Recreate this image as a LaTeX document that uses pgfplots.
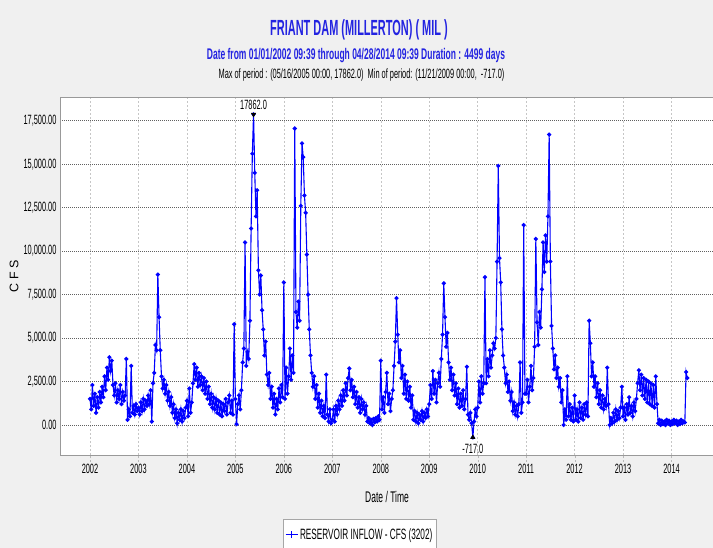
\documentclass[border=0pt]{standalone}
\usepackage{fontspec}
\setmainfont{Liberation Sans}[FakeStretch=0.55]
\newfontfamily\titlefont{Liberation Sans}[FakeStretch=0.5]
\newfontfamily\plainfont{Liberation Sans}
\usepackage{pgfplots}
\usepackage{pgfplotstable}
\pgfplotsset{compat=1.18}
\definecolor{bg}{RGB}{240,240,240}
\definecolor{ttl}{RGB}{35,35,225}
\definecolor{ser}{RGB}{0,0,255}

\pgfplotstableread{
x y
2002.000 1500
2002.025 900
2002.050 2300
2002.075 1100
2002.100 1800
2002.125 700
2002.150 1600
2002.175 1000
2002.200 1900
2002.225 1300
2002.250 2200
2002.275 1600
2002.300 2800
2002.325 2000
2002.350 3300
2002.375 2600
2002.400 3900
2002.425 3100
2002.450 3700
2002.475 2300
2002.500 1700
2002.525 2400
2002.550 1300
2002.575 2000
2002.600 1500
2002.625 2300
2002.650 1200
2002.675 1900
2002.700 1400
2002.725 1700
2002.750 3800
2002.775 300
2002.800 900
2002.825 500
2002.850 3400
2002.875 700
2002.900 1100
2002.925 600
2002.950 1200
2002.975 800
2003.000 1000
2003.025 600
2003.050 1300
2003.075 800
2003.100 1500
2003.125 900
2003.150 1400
2003.175 1100
2003.200 1700
2003.225 1200
2003.250 2000
2003.275 200
2003.300 2400
2003.325 3000
2003.350 4600
2003.375 4300
2003.400 8650
2003.425 6200
2003.450 4300
2003.475 2800
2003.500 2100
2003.525 2600
2003.550 1800
2003.575 2300
2003.600 1400
2003.625 1900
2003.650 1100
2003.675 1600
2003.700 700
2003.725 1200
2003.750 400
2003.775 900
2003.800 100
2003.825 700
2003.850 300
2003.875 900
2003.900 200
2003.925 800
2003.950 400
2003.975 1000
2004.000 1400
2004.025 500
2004.050 2100
2004.075 700
2004.100 1300
2004.125 2400
2004.150 3500
2004.175 2600
2004.200 3300
2004.225 2200
2004.250 3000
2004.275 2300
2004.300 2800
2004.325 2000
2004.350 2700
2004.375 1800
2004.400 2500
2004.425 1500
2004.450 2200
2004.475 1200
2004.500 1800
2004.525 1000
2004.550 1600
2004.575 900
2004.600 1500
2004.625 700
2004.650 1400
2004.675 600
2004.700 1300
2004.725 500
2004.750 1200
2004.775 800
2004.800 1500
2004.825 600
2004.850 1300
2004.875 1700
2004.900 700
2004.925 1400
2004.950 600
2004.975 5800
2005.000 1500
2005.025 50
2005.050 1200
2005.075 1700
2005.100 900
2005.125 2000
2005.150 3600
2005.175 4400
2005.200 10500
2005.225 3400
2005.250 4200
2005.275 3800
2005.300 6000
2005.325 11300
2005.350 15600
2005.375 17862
2005.400 14500
2005.425 12000
2005.450 13500
2005.475 8900
2005.500 7500
2005.525 8600
2005.550 6600
2005.575 5500
2005.600 4000
2005.625 4800
2005.650 2900
2005.675 2300
2005.700 3000
2005.725 1500
2005.750 2200
2005.775 1000
2005.800 1800
2005.825 600
2005.850 1500
2005.875 900
2005.900 2100
2005.925 1300
2005.950 2300
2005.975 1600
2006.000 8200
2006.025 1500
2006.050 3300
2006.075 1800
2006.100 2800
2006.125 4400
2006.150 2600
2006.175 4000
2006.200 3000
2006.225 17050
2006.250 6500
2006.275 5600
2006.300 7100
2006.325 6000
2006.350 12600
2006.375 16200
2006.400 15400
2006.425 13200
2006.450 12200
2006.475 9800
2006.500 7500
2006.525 5500
2006.550 4000
2006.575 3000
2006.600 2200
2006.625 2800
2006.650 1500
2006.675 2300
2006.700 1000
2006.725 1800
2006.750 700
2006.775 1400
2006.800 500
2006.825 1100
2006.850 400
2006.875 2900
2006.900 600
2006.925 200
2006.950 900
2006.975 100
2007.000 300
2007.025 900
2007.050 200
2007.075 1100
2007.100 600
2007.125 1400
2007.150 900
2007.175 1700
2007.200 1100
2007.225 2000
2007.250 1400
2007.275 2400
2007.300 1700
2007.325 2700
2007.350 3250
2007.375 2000
2007.400 2600
2007.425 1600
2007.450 2200
2007.475 1200
2007.500 1900
2007.525 1000
2007.550 1600
2007.575 700
2007.600 1500
2007.625 900
2007.650 1300
2007.675 600
2007.700 1100
2007.725 200
2007.750 400
2007.775 100
2007.800 300
2007.825 0
2007.850 350
2007.875 150
2007.900 400
2007.925 200
2007.950 500
2007.975 300
2008.000 3700
2008.025 900
2008.050 1600
2008.075 700
2008.100 1900
2008.125 3000
2008.150 1200
2008.175 1800
2008.200 800
2008.225 1500
2008.250 2000
2008.275 3400
2008.300 4800
2008.325 7300
2008.350 5200
2008.375 3600
2008.400 4300
2008.425 2700
2008.450 3400
2008.475 1800
2008.500 2900
2008.525 1500
2008.550 2500
2008.575 1400
2008.600 2200
2008.625 1000
2008.650 1700
2008.675 300
2008.700 800
2008.725 200
2008.750 700
2008.775 100
2008.800 600
2008.825 300
2008.850 800
2008.875 200
2008.900 700
2008.925 400
2008.950 900
2008.975 500
2009.000 1200
2009.025 2300
2009.050 1500
2009.075 3100
2009.100 1800
2009.125 2600
2009.150 1300
2009.175 2400
2009.200 3000
2009.225 2200
2009.250 3800
2009.275 5200
2009.300 8150
2009.325 6200
2009.350 4500
2009.375 5300
2009.400 3600
2009.425 2600
2009.450 3300
2009.475 2000
2009.500 2900
2009.525 1700
2009.550 2400
2009.575 1200
2009.600 2100
2009.625 1000
2009.650 1800
2009.675 1100
2009.700 2000
2009.725 900
2009.750 1500
2009.775 3350
2009.800 600
2009.825 300
2009.850 700
2009.875 100
2009.900 -717
2009.925 200
2009.950 900
2009.975 500
2010.000 1000
2010.025 2500
2010.050 1300
2010.075 2800
2010.100 1800
2010.125 2400
2010.150 8500
2010.175 2400
2010.200 3800
2010.225 2800
2010.250 4300
2010.275 3300
2010.300 4000
2010.325 4700
2010.350 4400
2010.375 5000
2010.400 9400
2010.425 14900
2010.450 9600
2010.475 8200
2010.500 5500
2010.525 4000
2010.550 3300
2010.575 2400
2010.600 2900
2010.625 1900
2010.650 2500
2010.675 1400
2010.700 1900
2010.725 800
2010.750 1300
2010.775 600
2010.800 1100
2010.825 500
2010.850 1200
2010.875 3600
2010.900 700
2010.925 1300
2010.950 11500
2010.975 1800
2011.000 1800
2011.025 2600
2011.050 1300
2011.075 2200
2011.100 3400
2011.125 2000
2011.150 2700
2011.175 4500
2011.200 10700
2011.225 5900
2011.250 4600
2011.275 6500
2011.300 5600
2011.325 7800
2011.350 10500
2011.375 8800
2011.400 10900
2011.425 9400
2011.450 12000
2011.475 16700
2011.500 9400
2011.525 5700
2011.550 4400
2011.575 3200
2011.600 4000
2011.625 2700
2011.650 3300
2011.675 2200
2011.700 2700
2011.725 1300
2011.750 2000
2011.775 0
2011.800 900
2011.825 300
2011.850 2800
2011.875 500
2011.900 1200
2011.925 300
2011.950 1000
2011.975 200
2012.000 1700
2012.025 300
2012.050 900
2012.075 200
2012.100 1300
2012.125 400
2012.150 1000
2012.175 300
2012.200 1200
2012.225 600
2012.250 1300
2012.275 500
2012.300 6000
2012.325 4700
2012.350 2800
2012.375 3600
2012.400 2200
2012.425 2800
2012.450 1600
2012.475 2400
2012.500 1200
2012.525 2000
2012.550 1000
2012.575 1700
2012.600 900
2012.625 1500
2012.650 1100
2012.675 3300
2012.700 1200
2012.725 0
2012.750 400
2012.775 100
2012.800 700
2012.825 200
2012.850 900
2012.875 300
2012.900 800
2012.925 400
2012.950 1000
2012.975 2200
2013.000 500
2013.025 1000
2013.050 300
2013.075 1200
2013.100 600
2013.125 1600
2013.150 700
2013.175 1100
2013.200 500
2013.225 1300
2013.250 800
2013.275 1500
2013.300 2400
2013.325 3150
2013.350 2000
2013.375 2900
2013.400 1700
2013.425 2700
2013.450 1500
2013.475 2600
2013.500 1300
2013.525 2500
2013.550 1200
2013.575 2400
2013.600 1100
2013.625 2300
2013.650 1000
2013.675 2800
2013.700 1200
2013.725 100
2013.750 300
2013.775 0
2013.800 250
2013.825 50
2013.850 200
2013.875 0
2013.900 300
2013.925 100
2013.950 250
2013.975 0
2014.000 200
2014.025 50
2014.050 300
2014.075 100
2014.100 250
2014.125 0
2014.150 200
2014.175 50
2014.200 300
2014.225 100
2014.250 200
2014.275 150
2014.300 3050
2014.325 2700
}\inflow

\begin{document}
\begin{tikzpicture}[x=1bp,y=1bp]
\useasboundingbox (0,0) rectangle (713,548);
\clip (0,0) rectangle (713,548);
\fill[bg] (0,0) rectangle (713,548);
\node[text=ttl, inner sep=0pt] at (359,518) {\titlefont\bfseries\fontsize{22}{24}\selectfont FRIANT DAM (MILLERTON) ( MIL )};
\node[text=ttl, inner sep=0pt] at (356,492) {\bfseries\fontsize{15.5}{17}\selectfont Date from 01/01/2002 09:39 through 04/28/2014 09:39 Duration : 4499 days};
\node[text=black, inner sep=0pt] at (361.5,473) {\fontsize{13.5}{15}\selectfont Max of period : (05/16/2005 00:00, 17862.0)\ \ Min of period: (11/21/2009 00:00,\ \ -717.0)};
\begin{axis}[
  at={(60bp,93bp)}, anchor=south west,
  scale only axis, width=656bp, height=357.3bp,
  xmin=2001.381, xmax=2014.918, ymin=-1725, ymax=18823,
  axis background/.style={fill=white},
  axis line style={gray!80},
  xtick={2002,2003,...,2014},
  ytick={0,2500,...,17500},
  scaled y ticks=false,
  xtick pos=bottom, ytick pos=left,
  major tick length=7bp,
  xtick style={gray!55, dash pattern=on 2bp off 1.5bp, yshift=-7bp},
  ytick style={draw=none},
  grid=major,
  x grid style={gray!45, dash pattern=on 2bp off 2bp},
  y grid style={gray!75!black, dash pattern=on 1bp off 1bp},
  tick label style={font=\fontsize{13.5}{15}\selectfont},
  xticklabel style={/pgf/number format/.cd, assume math mode=true, 1000 sep={}, /tikz/.cd, yshift=-6bp},
  yticklabel style={/pgf/number format/.cd, assume math mode=true, fixed, fixed zerofill, precision=2, 1000 sep={,}},
  xlabel={Date / Time},
  xlabel style={font=\fontsize{15.5}{17}\selectfont, at={(axis description cs:0.4985,-0.1167)}, anchor=center},
  ylabel={\plainfont C F S},
  ylabel style={font=\fontsize{12.5}{14}\selectfont, at={(axis description cs:-0.0701,0.5)}, anchor=center},
  legend style={at={(axis description cs:0.34,-0.18)}, anchor=north west, draw=gray!70, fill=white, font=\fontsize{15}{17}\selectfont, inner xsep=2bp, inner ysep=7bp, legend cell align=left},
  legend image code/.code={\draw[ser, line width=0.8bp] (0bp,0bp) -- (12bp,0bp); \draw[ser, line width=0.8bp] (6bp,-3.5bp) -- (6bp,3.5bp);},
]
\addplot[ser, line width=1.1bp, mark=*, mark size=1.5bp, mark options={solid, fill=ser, draw=ser}] table[x=x, y=y] {\inflow};
\addlegendentry{RESERVOIR INFLOW - CFS (3202)}
\addplot[black, only marks, mark=triangle*, mark size=2.6bp, mark options={rotate=180}, forget plot] coordinates {(2005.375,17862)};
\addplot[black, only marks, mark=triangle*, mark size=2.6bp, forget plot] coordinates {(2009.9,-717)};
\node[font=\fontsize{13.5}{15}\selectfont, inner sep=0pt] at (axis cs:2005.375,17862) [yshift=9.5bp] {17862.0};
\node[font=\fontsize{13.5}{15}\selectfont, inner sep=0pt] at (axis cs:2009.9,-717) [yshift=-11.5bp] {-717.0};
\end{axis}
\end{tikzpicture}
\end{document}
